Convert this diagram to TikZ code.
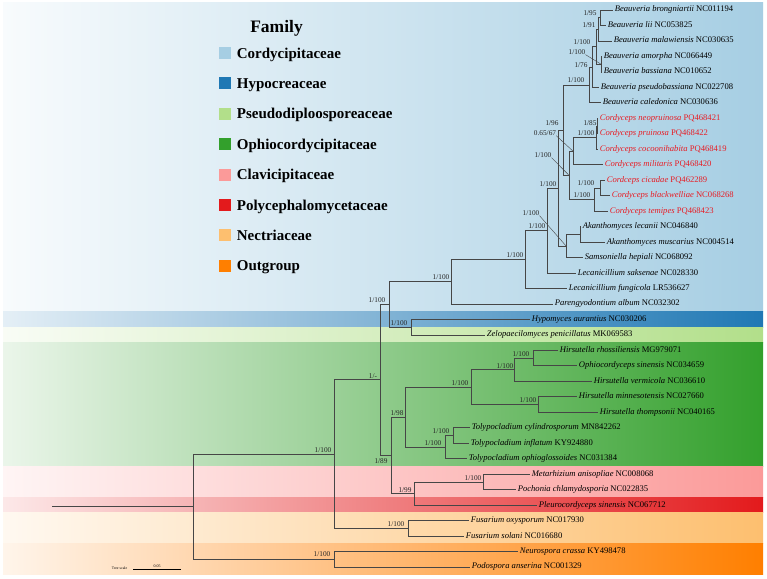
\documentclass[tikz,border=0pt]{standalone}
\usepackage{fontspec}
\setmainfont{Liberation Serif}
\definecolor{cCor}{HTML}{A6CEE3}
\definecolor{cHyp}{HTML}{1F78B4}
\definecolor{cPse}{HTML}{B2DF8A}
\definecolor{cOph}{HTML}{33A02C}
\definecolor{cCla}{HTML}{FB9A99}
\definecolor{cPol}{HTML}{E31A1C}
\definecolor{cNec}{HTML}{FDBF6F}
\definecolor{cOut}{HTML}{FF7F00}
\definecolor{cRed}{RGB}{232,28,36}
\definecolor{cBr}{RGB}{70,70,70}
\begin{document}
\begin{tikzpicture}[x=1pt,y=-1pt,
  br/.style={draw=cBr,line width=0.7pt},
  lead/.style={draw=cBr,line width=0.4pt},
  leaf/.style={anchor=west,inner xsep=1.6pt,inner ysep=0pt,text height=6pt,text depth=2pt,font=\fontsize{8.6}{10}\selectfont},
  rleaf/.style={leaf,text=cRed},
  sup/.style={inner sep=0pt,font=\fontsize{7.3}{8}\selectfont,text=black!85},
  band/.style={draw=none},
  sqr/.style={draw=none,minimum size=12pt,inner sep=0pt},
  legtxt/.style={anchor=west,inner sep=0pt,text height=10pt,text depth=0pt,font=\fontsize{15}{18}\selectfont\bfseries}
]
\useasboundingbox (0,0) rectangle (767,578);
\fill[white] (0,0) rectangle (767,578);
% family bands
\shade[band,left color=cCor!8,right color=cCor] (3,3) rectangle (763,311.7);
\shade[band,left color=cHyp!12,right color=cHyp] (3,311.7) rectangle (763,327.15);
\shade[band,left color=cPse!8,right color=cPse] (3,327.15) rectangle (763,342.6);
\shade[band,left color=cOph!10,right color=cOph] (3,342.6) rectangle (763,466.4);
\shade[band,left color=cCla!10,right color=cCla] (3,466.4) rectangle (763,497.3);
\shade[band,left color=cPol!10,right color=cPol] (3,497.3) rectangle (763,512.8);
\shade[band,left color=cNec!10,right color=cNec] (3,512.8) rectangle (763,543.7);
\shade[band,left color=cOut!8,right color=cOut] (3,543.7) rectangle (763,574.6);

% legend
\node[inner sep=0pt,text height=12pt,text depth=0pt,font=\fontsize{17.5}{20}\selectfont\bfseries] (lgt) at (276.5,26.5) {Family};
\node[sqr,fill=cCor] (q1) at (224.5,53) {};
\node[sqr,fill=cHyp] (q2) at (224.5,83.4) {};
\node[sqr,fill=cPse] (q3) at (224.5,113.8) {};
\node[sqr,fill=cOph] (q4) at (224.5,144.2) {};
\node[sqr,fill=cCla] (q5) at (224.5,174.6) {};
\node[sqr,fill=cPol] (q6) at (224.5,205) {};
\node[sqr,fill=cNec] (q7) at (224.5,235.4) {};
\node[sqr,fill=cOut] (q8) at (224.5,265.8) {};
\node[legtxt] (t1) at ([xshift=6pt]q1.east) {Cordycipitaceae};
\node[legtxt] (t2) at ([xshift=6pt]q2.east) {Hypocreaceae};
\node[legtxt] (t3) at ([xshift=6pt]q3.east) {Pseudodiploosporeaceae};
\node[legtxt] (t4) at ([xshift=6pt]q4.east) {Ophiocordycipitaceae};
\node[legtxt] (t5) at ([xshift=6pt]q5.east) {Clavicipitaceae};
\node[legtxt] (t6) at ([xshift=6pt]q6.east) {Polycephalomycetaceae};
\node[legtxt] (t7) at ([xshift=6pt]q7.east) {Nectriaceae};
\node[legtxt] (t8) at ([xshift=6pt]q8.east) {Outgroup};

% leaves
\node[leaf] (bbro) at (613,10.0) {\textit{Beauveria brongniartii} NC011194};
\node[leaf] (blii) at (606,25.5) {\textit{Beauveria lii} NC053825};
\node[leaf] (bmal) at (612,40.9) {\textit{Beauveria malawiensis} NC030635};
\node[leaf] (bamo) at (602,56.4) {\textit{Beauveria amorpha} NC066449};
\node[leaf] (bbas) at (602,71.9) {\textit{Beauveria bassiana} NC010652};
\node[leaf] (bpse) at (599,87.4) {\textit{Beauveria pseudobassiana} NC022708};
\node[leaf] (bcal) at (601,102.8) {\textit{Beauveria caledonica} NC030636};
\node[rleaf] (cneo) at (598,118.3) {\textit{Cordyceps neopruinosa} PQ468421};
\node[rleaf] (cpru) at (598,133.8) {\textit{Cordyceps pruinosa} PQ468422};
\node[rleaf] (ccoc) at (598,149.2) {\textit{Cordyceps cocoonihabita} PQ468419};
\node[rleaf] (cmil) at (603,164.7) {\textit{Cordyceps militaris} PQ468420};
\node[rleaf] (ccic) at (605,180.2) {\textit{Cordceps cicadae} PQ462289};
\node[rleaf] (cbla) at (610,195.6) {\textit{Cordyceps blackwelliae} NC068268};
\node[rleaf] (ctem) at (608,211.1) {\textit{Cordyceps temipes} PQ468423};
\node[leaf] (alec) at (581,226.6) {\textit{Akanthomyces lecanii} NC046840};
\node[leaf] (amus) at (605,242.1) {\textit{Akanthomyces muscarius} NC004514};
\node[leaf] (shep) at (583,257.5) {\textit{Samsoniella hepiali} NC068092};
\node[leaf] (lsak) at (576,273.0) {\textit{Lecanicillium saksenae} NC028330};
\node[leaf] (lfun) at (567,288.5) {\textit{Lecanicillium fungicola} LR536627};
\node[leaf] (palb) at (553,303.9) {\textit{Parengyodontium album} NC032302};
\node[leaf] (haur) at (530,319.4) {\textit{Hypomyces aurantius} NC030206};
\node[leaf] (zpen) at (485,334.9) {\textit{Zelopaecilomyces penicillatus} MK069583};
\node[leaf] (hrho) at (558,350.3) {\textit{Hirsutella rhossiliensis} MG979071};
\node[leaf] (osin) at (577,365.8) {\textit{Ophiocordyceps sinensis} NC034659};
\node[leaf] (hver) at (592,381.3) {\textit{Hirsutella vermicola} NC036610};
\node[leaf] (hmin) at (577,396.8) {\textit{Hirsutella minnesotensis} NC027660};
\node[leaf] (htho) at (598,412.2) {\textit{Hirsutella thompsonii} NC040165};
\node[leaf] (tcyl) at (470,427.7) {\textit{Tolypocladium cylindrosporum} MN842262};
\node[leaf] (tinf) at (469,443.2) {\textit{Tolypocladium inflatum} KY924880};
\node[leaf] (toph) at (467,458.6) {\textit{Tolypocladium ophioglossoides} NC031384};
\node[leaf] (mani) at (530,474.1) {\textit{Metarhizium anisopliae} NC008068};
\node[leaf] (pchl) at (516,489.6) {\textit{Pochonia chlamydosporia} NC022835};
\node[leaf] (psin) at (537,505.0) {\textit{Pleurocordyceps sinensis} NC067712};
\node[leaf] (foxy) at (469,520.5) {\textit{Fusarium oxysporum} NC017930};
\node[leaf] (fsol) at (464,536.0) {\textit{Fusarium solani} NC016680};
\node[leaf] (ncra) at (518,551.5) {\textit{Neurospora crassa} KY498478};
\node[leaf] (pans) at (470,566.9) {\textit{Podospora anserina} NC001329};

% internal nodes
\coordinate (A) at (600,17.75);
\coordinate (B) at (598,29.3);
\coordinate (C) at (601,64.15);
\coordinate (D) at (596,46.7);
\coordinate (E) at (592,67.05);
\coordinate (F) at (589,84.9);
\coordinate (G) at (597,126.05);
\coordinate (H) at (596,137.6);
\coordinate (I) at (573,151.15);
\coordinate (J) at (600,187.9);
\coordinate (K) at (594,199.5);
\coordinate (L) at (569,175.3);
\coordinate (M) at (563,130.1);
\coordinate (N) at (580,234.35);
\coordinate (O) at (566,245.9);
\coordinate (P) at (558,188);
\coordinate (Q) at (547,230.5);
\coordinate (R) at (525,259.5);
\coordinate (S) at (451,281.7);
\coordinate (U) at (411,327.15);
\coordinate (T) at (389,304.4);
\coordinate (Hrs) at (533,358.05);
\coordinate (Hv) at (514,369.7);
\coordinate (Hm) at (538,404.5);
\coordinate (Hir) at (471,387.1);
\coordinate (Tci) at (453,435.45);
\coordinate (Tol) at (445,447.0);
\coordinate (X) at (405,417.05);
\coordinate (Mp) at (483,481.85);
\coordinate (Y) at (414,493.4);
\coordinate (W) at (391,455.2);
\coordinate (V) at (380,379.8);
\coordinate (Fu) at (408,528.25);
\coordinate (Z) at (334,454.0);
\coordinate (Og) at (334,559.2);
\coordinate (Rt) at (193,506.6);
\coordinate (st) at (52,506.6);

% branches
\foreach \p/\c in {A/bbro.west,A/blii.west,B/A,B/bmal.west,C/bamo.west,C/bbas.west,
  D/B,D/C,E/D,E/bpse.west,F/E,F/bcal.west,G/cneo.west,G/cpru.west,H/G,H/ccoc.west,
  I/H,I/cmil.west,J/ccic.west,J/cbla.west,K/J,K/ctem.west,L/I,L/K,M/F,M/L,
  N/alec.west,N/amus.west,O/N,O/shep.west,P/M,P/O,Q/P,Q/lsak.west,R/Q,R/lfun.west,
  S/R,S/palb.west,U/haur.west,U/zpen.west,T/S,T/U,
  Hrs/hrho.west,Hrs/osin.west,Hv/Hrs,Hv/hver.west,Hm/hmin.west,Hm/htho.west,
  Hir/Hv,Hir/Hm,Tci/tcyl.west,Tci/tinf.west,Tol/Tci,Tol/toph.west,X/Hir,X/Tol,
  Mp/mani.west,Mp/pchl.west,Y/Mp,Y/psin.west,W/X,W/Y,V/T,V/W,
  Fu/foxy.west,Fu/fsol.west,Z/V,Z/Fu,Og/ncra.west,Og/pans.west,Rt/Z,Rt/Og}
  \draw[br] (\p) |- (\c);
\draw[br] (st) -- (Rt);

% support values
\node[sup] (sA) at (590,13.5) {1/95};
\node[sup] (sB) at (589,25) {1/91};
\node[sup] (sD) at (582,42) {1/100};
\node[sup] (sC) at (577,52) {1/100};
\node[sup] (sE) at (581,65) {1/76};
\node[sup] (sF) at (576,80.5) {1/100};
\node[sup] (sG) at (590,123) {1/85};
\node[sup] (sH) at (586,133) {1/100};
\node[sup] (sI) at (545,133) {0.65/67};
\node[sup] (sM) at (552,123) {1/96};
\node[sup] (sL) at (543,155) {1/100};
\node[sup] (sJ) at (586,183.5) {1/100};
\node[sup] (sK) at (582,195.5) {1/100};
\node[sup] (sP) at (548,184) {1/100};
\node[sup] (sO) at (531,213) {1/100};
\node[sup] (sQ) at (537,226.5) {1/100};
\node[sup] (sR) at (515,255) {1/100};
\node[sup] (sS) at (441,277.5) {1/100};
\node[sup] (sT) at (377,300) {1/100};
\node[sup] (sU) at (399,323) {1/100};
\node[sup] (sV) at (373,376) {1/-};
\node[sup] (sW) at (381,461) {1/89};
\node[sup] (sX) at (397,413) {1/98};
\node[sup] (sY) at (405,490) {1/99};
\node[sup] (sZ) at (323,450) {1/100};
\node[sup] (sHir) at (460,383) {1/100};
\node[sup] (sHrs) at (521,354) {1/100};
\node[sup] (sHv) at (505,366) {1/100};
\node[sup] (sHm) at (528,400.5) {1/100};
\node[sup] (sTci) at (441,431) {1/100};
\node[sup] (sTol) at (433,443) {1/100};
\node[sup] (sMp) at (473,478) {1/100};
\node[sup] (sFu) at (396,524) {1/100};
\node[sup] (sOg) at (322,554.5) {1/100};
% leader lines
\draw[lead] (sC.south east) -- (C);
\draw[lead] (sI.south east) -- (I);
\draw[lead] (sL.south east) -- (L);
\draw[lead] (sO.south east) -- (O);

% tree scale
\node[inner sep=0pt,font=\fontsize{3.8}{4}\selectfont] (tsl) at (119.5,567.8) {Tree scale};
\coordinate (sc1) at (133,569.3);
\coordinate (sc2) at (181,569.3);
\draw[line width=0.5pt] (sc1) -- (sc2);
\node[inner sep=0pt,font=\fontsize{4}{4}\selectfont] (tsv) at (157,566) {0.05};
\end{tikzpicture}
\end{document}
